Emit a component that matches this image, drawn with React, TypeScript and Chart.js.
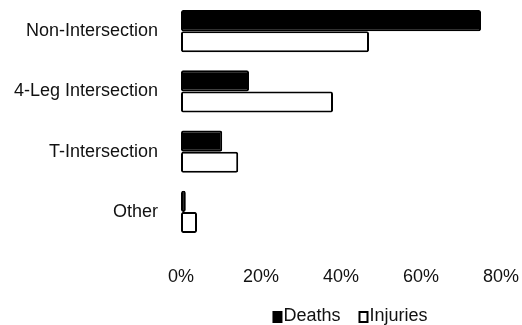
import React, { useEffect, useRef } from "react";
import { Chart, registerables } from "chart.js";

Chart.register(...registerables);

const categories = ["Non-Intersection", "4-Leg Intersection", "T-Intersection", "Other"];
const deathsLabel = "Deaths";
const injuriesLabel = "Injuries";
const deaths = [75, 17, 10.3, 1.2];
const injuries = [47, 38, 14.3, 4];
const xTickMin = 0;
const xTickMax = 80;
const xTickStep = 20;

const FONT = "'Liberation Sans', Arial, sans-serif";

const legendPlugin = {
  id: "tightLegend",
  afterDraw(chart: any) {
    const ctx = chart.ctx as CanvasRenderingContext2D;
    const { left, right } = chart.chartArea;
    ctx.save();
    ctx.font = `18px ${FONT}`;
    const box = 10;
    const gapText = 1;
    const gapItem = 18;
    const items = chart.data.datasets.map((ds: any) => ({
      label: ds.label as string,
      bg: ds.backgroundColor as string,
      w: ctx.measureText(ds.label).width,
    }));
    const total =
      items.reduce((s: number, it: any) => s + box + gapText + it.w, 0) +
      gapItem * (items.length - 1);
    let x = (left + right) / 2 + 9 - total / 2;
    const y = chart.height - 9;
    ctx.textBaseline = "middle";
    ctx.textAlign = "left";
    for (const it of items) {
      ctx.fillStyle = it.bg;
      ctx.fillRect(x + 1, y - box / 2 + 1, box - 2, box);
      ctx.lineWidth = 2;
      ctx.strokeStyle = "#000";
      ctx.strokeRect(x + 1, y - box / 2 + 1, box - 2, box);
      ctx.fillStyle = "#111";
      ctx.fillText(it.label, x + box + gapText, y);
      x += box + gapText + it.w + gapItem;
    }
    ctx.restore();
  },
};

export default function App() {
  const ref = useRef<HTMLCanvasElement | null>(null);

  useEffect(() => {
    document.body.style.margin = "0";
    if (!ref.current) return;
    const chart = new Chart(ref.current, {
      type: "bar",
      data: {
        labels: categories,
        datasets: [
          {
            label: deathsLabel,
            data: deaths,
            backgroundColor: "#000000",
            borderColor: "#000000",
            borderWidth: 2,
            borderSkipped: false,
            borderRadius: 2,
            categoryPercentage: 0.7,
            barPercentage: 1,
          },
          {
            label: injuriesLabel,
            data: injuries,
            backgroundColor: "#ffffff",
            borderColor: "#000000",
            borderWidth: 2,
            borderSkipped: false,
            borderRadius: 2,
            categoryPercentage: 0.7,
            barPercentage: 1,
          },
        ],
      },
      options: {
        indexAxis: "y",
        animation: false,
        responsive: false,
        maintainAspectRatio: false,
        layout: { padding: { left: 12, right: 21, top: 1, bottom: 36 } },
        plugins: {
          legend: { display: false },
          tooltip: { enabled: false },
        },
        scales: {
          x: {
            min: xTickMin,
            max: xTickMax,
            grid: { display: false, drawTicks: false },
            border: { display: false },
            afterFit: (s: any) => {
              s.height = 47;
              s.paddingLeft = 0;
              s.paddingRight = 0;
            },
            ticks: {
              stepSize: xTickStep,
              padding: 24,
              minRotation: 0,
              maxRotation: 0,
              color: "#111",
              font: { family: FONT, size: 18 },
              callback: (v: any) => `${v}%`,
            },
          },
          y: {
            grid: { display: false, drawTicks: false },
            border: { display: false },
            afterFit: (s: any) => {
              s.width = 169;
              s.paddingTop = 0;
              s.paddingBottom = 0;
            },
            ticks: {
              padding: 23,
              color: "#111",
              font: { family: FONT, size: 18 },
            },
          },
        },
      },
      plugins: [legendPlugin],
    } as any);
    return () => chart.destroy();
  }, []);

  return (
    <div style={{ width: 522, height: 325 }}>
      <canvas ref={ref} width={522} height={325} style={{ display: "block" }} />
    </div>
  );
}
